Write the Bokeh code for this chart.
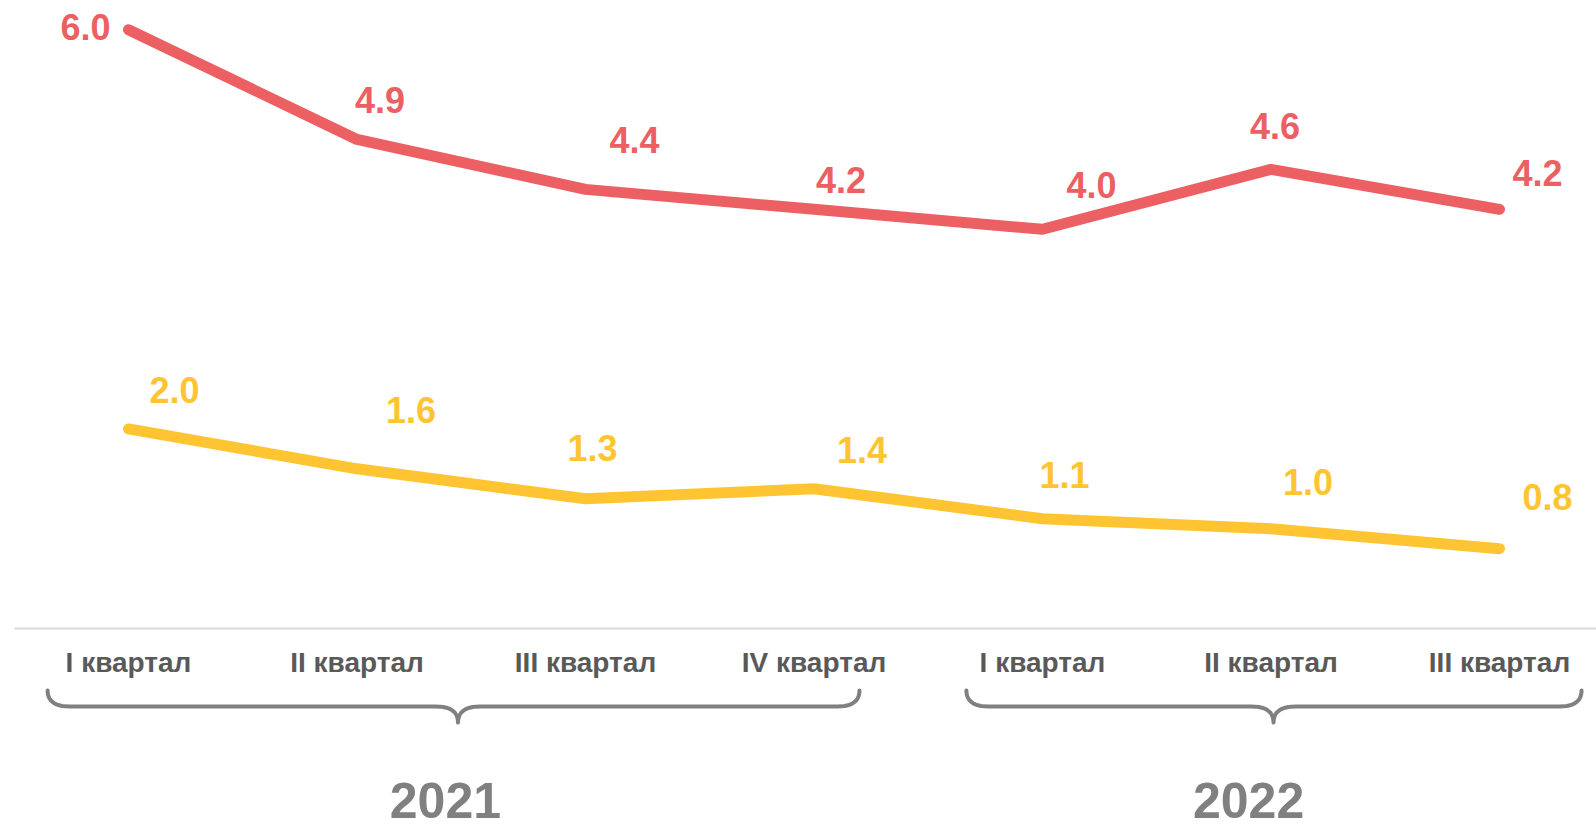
import numpy as np
from bokeh.plotting import figure
from bokeh.models import Range1d, ColumnDataSource
from bokeh.core.properties import value
from bokeh.embed import file_html
from bokeh.resources import INLINE

# ---------------- data ----------------
quarters = ["I квартал", "II квартал", "III квартал", "IV квартал",
            "I квартал", "II квартал", "III квартал"]
years = ["2021", "2022"]
series_red = [6.0, 4.9, 4.4, 4.2, 4.0, 4.6, 4.2]
series_yellow = [2.0, 1.6, 1.3, 1.4, 1.1, 1.0, 0.8]

# ---------------- style / layout ----------------
W, H = 1596, 824
SX, SY = 228.5, 99.8          # pixels per category step / per value unit
X0_PX, Y0_PX = 128, 628       # pixel of first category / of value 0
RED, YELLOW = "#EC6063", "#FFC431"
FONT = "Liberation Sans, Arial, sans-serif"

LBL_SHIFT = -13   # baseline correction for 36px labels
red_off = [(-43, 10), (23, -26), (49, -36), (27, -16), (49, -31), (4, -30), (38, -23)]
yel_off = [(46, -26), (54, -46), (7, -38), (48, -26), (22, -31), (37, -34), (48, -39)]

# brace spans in category units (left, cusp, right) and year label x
brace_spans = [(-0.354, 1.442, 3.199), (3.667, 5.011, 6.359)]
year_x = [1.387, 4.902]

xs = list(range(len(quarters)))

p = figure(width=W, height=H, output_backend="svg", toolbar_location=None,
           x_range=Range1d(-X0_PX / SX, (W - X0_PX) / SX),
           y_range=Range1d(-(H - Y0_PX) / SY, Y0_PX / SY),
           min_border=0, outline_line_color=None)
p.axis.visible = False
p.grid.visible = False
p.background_fill_color = "white"
p.border_fill_color = "white"

# baseline
p.segment(x0=[(14 - X0_PX) / SX], y0=[0], x1=[(W - X0_PX) / SX], y1=[0],
          line_color="#d9d9d9", line_width=2)

# lines
p.line(xs, series_red, line_color=RED, line_width=11, line_cap="round", line_join="round")
p.line(xs, series_yellow, line_color=YELLOW, line_width=11, line_cap="round", line_join="round")

# data labels
for vals, offs, col in [(series_red, red_off, RED), (series_yellow, yel_off, YELLOW)]:
    src = ColumnDataSource(dict(x=xs, y=vals, t=[f"{v:.1f}" for v in vals],
                                dx=[o[0] for o in offs], dy=[o[1] + LBL_SHIFT for o in offs]))
    p.text(x="x", y="y", text="t", source=src, x_offset="dx", y_offset="dy",
           text_align="center", text_baseline="alphabetic",
           text_font=value(FONT), text_font_style="bold",
           text_font_size="36px", text_color=col)

# category labels
p.text(x=xs, y=[0] * len(xs), text=quarters, y_offset=34,
       text_align="center", text_baseline="alphabetic",
       text_font=value(FONT), text_font_style="bold",
       text_font_size="28px", text_color="#595959")

# braces
def quad(p0, c, p1, n=12):
    t = np.linspace(0, 1, n)[:, None]
    return (1 - t) ** 2 * np.array(p0) + 2 * (1 - t) * t * np.array(c) + t ** 2 * np.array(p1)

def px2d(px, py):
    return ((px - X0_PX) / SX, -(py - Y0_PX) / SY)

for (l, c, r) in brace_spans:
    lp = l * SX + X0_PX
    cp = c * SX + X0_PX
    rp = r * SX + X0_PX
    ytop, yh, ybot, rad = 690, 706, 722, 22
    segs = [
        quad((lp, ytop), (lp, yh), (lp + rad, yh)),
        np.array([(lp + rad, yh), (cp - rad, yh)]),
        quad((cp - rad, yh), (cp, yh), (cp, ybot)),
        quad((cp, ybot), (cp, yh), (cp + rad, yh)),
        np.array([(cp + rad, yh), (rp - rad, yh)]),
        quad((rp - rad, yh), (rp, yh), (rp, ytop)),
    ]
    pts = np.vstack(segs)
    dx, dy = zip(*[px2d(a, b) for a, b in pts])
    p.line(list(dx), list(dy), line_color="#808080", line_width=4,
           line_cap="round", line_join="round")

# year labels
p.text(x=year_x, y=[0, 0], text=years, y_offset=172,
       text_align="center", text_baseline="alphabetic",
       text_font=value(FONT), text_font_style="bold",
       text_font_size="50px", text_color="#808080")

open("out.html", "w").write(file_html(p, INLINE))
